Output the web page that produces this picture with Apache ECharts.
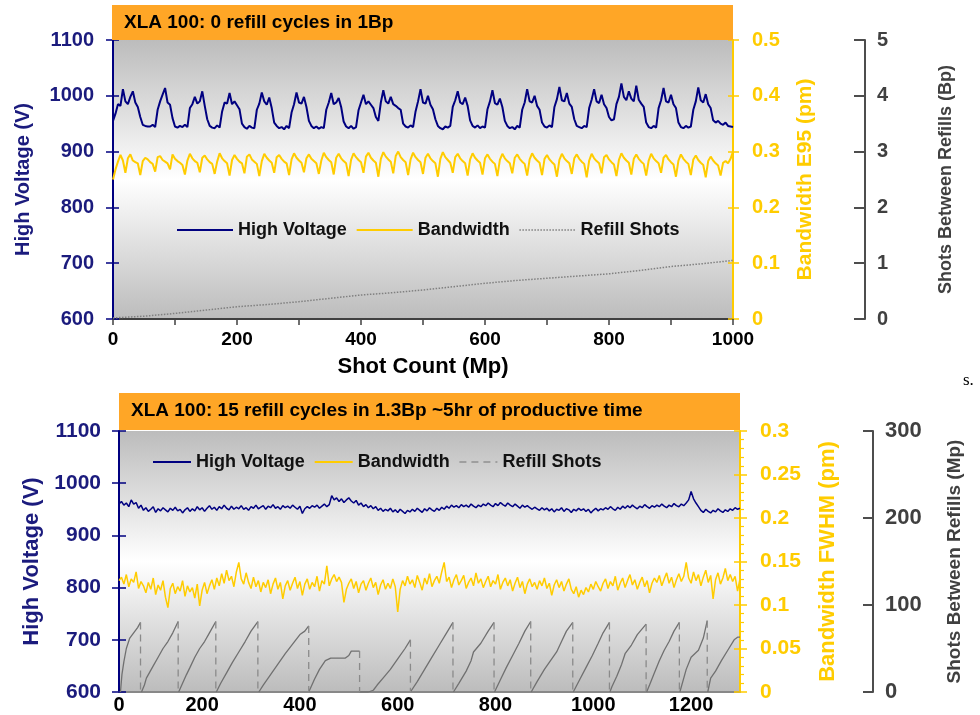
<!doctype html>
<html lang="en">
<head>
<meta charset="UTF-8"/>
<title>XLA 100 refill cycles</title>
<script src="https://cdn.jsdelivr.net/npm/echarts@6/dist/echarts.min.js"></script>
<style>
html,body{margin:0;padding:0;background:#fff;}
#main{width:980px;height:715px;}
</style>
</head>
<body>
<div id="main"></div>
<script type="text/javascript">
// top chart: 0 refill cycles in 1Bp, one sample every 4 Mp from 0
var topStart = 0, topStep = 4;
var topHV = [
  955,968,985,982,1012,990,985,998,1008,988,
  980,962,948,946,945,945,948,944,975,990,
  1002,1014,988,984,960,945,943,946,944,948,
  944,978,985,998,986,990,1008,982,958,946,
  943,942,947,943,972,988,986,1005,985,990,
  983,976,950,944,941,946,943,942,975,986,
  1006,990,984,997,978,952,946,942,944,940,
  946,942,970,985,1006,988,986,998,980,955,
  946,942,945,941,944,942,975,988,1005,985,
  988,996,980,954,945,942,946,941,944,974,
  988,1002,985,990,984,978,962,955,988,1010,
  990,986,998,985,982,978,975,950,945,943,
  947,944,972,990,1012,988,986,1000,984,976,
  958,946,942,940,945,943,946,980,992,1008,
  988,985,997,982,956,946,943,947,942,945,
  943,976,990,1010,987,984,995,980,955,946,
  942,944,940,946,943,975,988,1012,990,988,
  1000,982,975,952,945,943,947,944,980,994,
  1016,992,990,1005,986,980,958,946,944,942,
  946,944,978,993,1012,990,987,1002,985,978,
  962,956,958,985,998,1022,998,992,1008,995,
  990,1018,993,986,980,952,944,942,946,943,
  978,992,1014,990,988,1002,985,978,952,944,
  942,946,943,945,975,990,1015,992,988,1003,
  985,978,956,952,955,950,948,952,946,945,
  944
];
var topBW = [
  0.25,0.268,0.282,0.294,0.284,0.262,0.288,0.295,0.284,0.281,
  0.279,0.258,0.283,0.289,0.286,0.281,0.278,0.264,0.29,0.292,
  0.285,0.282,0.279,0.268,0.295,0.287,0.283,0.28,0.276,0.259,
  0.284,0.296,0.288,0.283,0.28,0.263,0.289,0.293,0.286,0.281,
  0.278,0.26,0.282,0.297,0.288,0.283,0.279,0.257,0.285,0.294,
  0.287,0.282,0.279,0.261,0.291,0.295,0.286,0.282,0.278,0.256,
  0.283,0.296,0.289,0.284,0.28,0.262,0.29,0.294,0.287,0.282,
  0.279,0.258,0.286,0.297,0.289,0.284,0.28,0.263,0.288,0.295,
  0.287,0.283,0.279,0.26,0.284,0.298,0.29,0.285,0.281,0.259,
  0.289,0.296,0.288,0.283,0.279,0.256,0.285,0.297,0.29,0.285,
  0.281,0.262,0.291,0.298,0.289,0.284,0.28,0.255,0.287,0.299,
  0.291,0.286,0.282,0.261,0.292,0.3,0.29,0.285,0.281,0.258,
  0.286,0.298,0.29,0.285,0.281,0.26,0.289,0.296,0.288,0.283,
  0.279,0.255,0.287,0.299,0.29,0.285,0.28,0.262,0.29,0.296,
  0.288,0.283,0.279,0.257,0.286,0.297,0.289,0.284,0.28,0.259,
  0.288,0.295,0.287,0.282,0.278,0.256,0.285,0.296,0.288,0.283,
  0.279,0.261,0.289,0.295,0.287,0.282,0.278,0.257,0.286,0.297,
  0.289,0.284,0.28,0.258,0.287,0.294,0.286,0.281,0.277,0.255,
  0.285,0.296,0.288,0.283,0.279,0.26,0.288,0.295,0.287,0.282,
  0.278,0.254,0.284,0.296,0.288,0.283,0.279,0.261,0.29,0.294,
  0.286,0.281,0.277,0.256,0.285,0.297,0.289,0.284,0.28,0.259,
  0.287,0.295,0.287,0.282,0.278,0.257,0.284,0.296,0.288,0.283,
  0.279,0.262,0.289,0.294,0.286,0.281,0.277,0.255,0.284,0.295,
  0.287,0.282,0.278,0.258,0.286,0.293,0.285,0.28,0.276,0.254,
  0.283,0.291,0.284,0.279,0.275,0.257,0.28,0.283,0.279,0.287,
  0.3
];
// shots between refills (Bp) vs shot count
var topRefill = [
  [0,0.02],[50,0.05],[100,0.1],[150,0.16],[200,0.22],[250,0.26],[300,0.31],
  [350,0.37],[400,0.43],[450,0.47],[500,0.52],[550,0.58],[600,0.64],[650,0.69],
  [700,0.73],[750,0.77],[800,0.81],[850,0.87],[900,0.94],[950,0.99],[1000,1.05]
];

// bottom chart: 15 refill cycles in 1.3Bp, one sample every 5 Mp from 30
var botStart = 30, botStep = 5;
var botHV = [
  960,965,958,962,955,968,960,963,952,958,
  948,953,946,950,955,944,951,947,953,949,
  945,952,948,954,947,950,943,949,953,946,
  951,947,955,949,953,946,952,957,950,954,
  948,955,951,958,952,949,956,950,954,951,
  957,950,953,948,955,952,958,951,954,957,
  950,956,953,959,952,955,950,957,953,956,
  952,958,954,950,956,942,951,955,952,957,
  954,958,952,956,960,955,959,976,968,972,
  965,970,963,968,972,966,962,967,958,962,
  955,959,953,957,951,955,948,952,946,950,
  947,952,945,949,944,950,946,942,948,945,
  950,946,952,948,944,951,947,953,949,946,
  952,948,954,950,956,952,958,954,957,953,
  959,955,958,954,960,956,953,958,955,960,
  957,962,958,955,961,957,963,959,956,962,
  958,955,960,956,952,958,954,957,953,950,
  954,951,948,953,949,952,947,951,945,950,
  948,953,946,951,949,944,950,947,952,948,
  951,946,950,943,948,952,947,951,949,953,
  950,955,951,948,954,950,956,952,957,953,
  958,954,951,956,953,959,955,952,957,954,
  958,955,960,956,953,958,955,961,957,955,
  960,957,962,968,984,970,962,955,948,944,
  950,946,943,948,945,951,947,944,949,946,
  951,948,953,950,952
];
var botBW = [
  0.128,0.132,0.124,0.135,0.121,0.13,0.126,0.138,0.119,0.127,
  0.122,0.114,0.126,0.118,0.131,0.112,0.123,0.117,0.128,0.109,
  0.097,0.119,0.125,0.113,0.121,0.116,0.128,0.11,0.122,0.115,
  0.12,0.108,0.124,0.099,0.117,0.126,0.113,0.122,0.129,0.118,
  0.131,0.122,0.136,0.125,0.14,0.128,0.133,0.121,0.138,0.149,
  0.13,0.124,0.137,0.126,0.119,0.132,0.121,0.128,0.115,0.126,
  0.12,0.129,0.113,0.124,0.131,0.118,0.126,0.107,0.122,0.128,
  0.117,0.125,0.132,0.119,0.127,0.111,0.124,0.13,0.118,0.126,
  0.121,0.133,0.116,0.128,0.124,0.145,0.122,0.13,0.135,0.127,
  0.132,0.126,0.103,0.118,0.125,0.13,0.119,0.127,0.114,0.124,
  0.128,0.117,0.125,0.131,0.12,0.126,0.112,0.123,0.129,0.118,
  0.125,0.119,0.13,0.121,0.092,0.118,0.128,0.122,0.133,0.124,
  0.129,0.12,0.134,0.126,0.117,0.131,0.124,0.136,0.121,0.128,
  0.133,0.125,0.138,0.149,0.127,0.132,0.12,0.129,0.135,0.123,
  0.128,0.134,0.119,0.126,0.131,0.122,0.137,0.125,0.13,0.12,
  0.127,0.133,0.121,0.128,0.124,0.135,0.118,0.126,0.131,0.122,
  0.129,0.116,0.125,0.132,0.12,0.127,0.113,0.124,0.13,0.121,
  0.126,0.118,0.128,0.122,0.131,0.119,0.125,0.111,0.123,0.129,
  0.12,0.127,0.116,0.124,0.13,0.118,0.113,0.121,0.109,0.117,
  0.112,0.12,0.115,0.124,0.118,0.127,0.121,0.116,0.125,0.13,
  0.119,0.127,0.122,0.133,0.117,0.125,0.131,0.12,0.128,0.135,
  0.123,0.129,0.118,0.126,0.132,0.121,0.128,0.114,0.125,0.131,
  0.126,0.134,0.122,0.13,0.137,0.125,0.132,0.12,0.129,0.136,
  0.127,0.133,0.149,0.131,0.125,0.138,0.128,0.135,0.122,0.132,
  0.14,0.126,0.134,0.107,0.129,0.137,0.124,0.131,0.142,0.128,
  0.135,0.127,0.133,0.116,0.13
];
// shots between refills (Mp): one ramp per refill cycle, [shot count, Mp]
var botRamps = [
  [[33,0],[36,20],[40,35],[45,50],[52,62],[60,68],[68,74],[74,80]],
  [[76,0],[82,8],[86,16],[92,22],[100,30],[110,40],[120,50],[130,58],[140,68],[151,81]],
  [[152,0],[160,10],[168,20],[175,28],[185,40],[195,50],[205,58],[215,68],[228,81]],
  [[229,0],[238,10],[250,22],[262,34],[275,46],[288,58],[300,70],[314,81]],
  [[316,0],[325,8],[340,20],[355,32],[370,44],[385,55],[400,66],[410,70],[418,76]],
  [[418,0],[422,5],[430,15],[440,26],[452,36],[463,39],[493,39],[500,42],[505,47],[522,47]],
  [[522,0],[540,0],[550,2],[558,8],[570,16],[585,26],[600,38],[615,50],[626,60]],
  [[626,0],[640,12],[655,26],[670,40],[685,54],[700,68],[713,80]],
  [[714,0],[725,10],[740,24],[750,36],[755,46],[770,56],[785,70],[797,80]],
  [[798,0],[810,14],[822,28],[835,42],[848,56],[860,70],[872,81]],
  [[873,0],[885,12],[900,26],[915,38],[925,46],[935,58],[945,70],[958,80]],
  [[959,0],[972,14],[985,28],[998,42],[1010,56],[1020,68],[1033,80]],
  [[1034,0],[1038,6],[1048,18],[1058,32],[1065,44],[1078,54],[1090,66],[1108,78]],
  [[1109,0],[1115,8],[1125,22],[1135,36],[1145,48],[1155,58],[1165,70],[1176,80]],
  [[1177,0],[1183,12],[1190,26],[1200,40],[1215,48],[1225,62],[1233,82]],
  [[1234,0],[1240,16],[1250,24],[1262,36],[1275,48],[1288,60],[1295,63],[1300,63]]
];
var botXTickValues = [30, 200, 400, 600, 800, 1000, 1200];
var botXTickLabels = ['0', '200', '400', '600', '800', '1000', '1200'];

var FONT = '"Liberation Sans", Arial, sans-serif';
var NAVY = '#000080', NAVY_TXT = '#1b1b7d', YEL = '#FFCC00', GRAY = '#4d4d4d', ORANGE = '#FFA626';

function series(arr, start, step) {
  return arr.map(function (v, i) { return [start + i * step, v]; });
}
// ramps joined with breaks, and the dashed drop at the end of each cycle
var rampData = [], dropData = [];
botRamps.forEach(function (r, k) {
  rampData = rampData.concat(r);
  rampData.push(null);
  if (k < botRamps.length - 1) {
    var last = r[r.length - 1];
    dropData.push([last[0], last[1]], [last[0], 0], null);
  }
});

function bg() {
  return new echarts.graphic.LinearGradient(0, 0, 0, 1, [
    { offset: 0, color: '#bcbcbc' },
    { offset: 0.5, color: '#ffffff' },
    { offset: 1, color: '#bcbcbc' }
  ]);
}
function plain(v) { return String(v); }
function lbl(color, size, margin) {
  return { color: color, fontWeight: 'bold', fontSize: size, fontFamily: FONT, margin: margin, formatter: plain };
}
function nm(color, size) {
  return { color: color, fontWeight: 'bold', fontSize: size, fontFamily: FONT };
}
// a second copy of an axis that only draws the inner half of the ticks
function innerTicks(base, len, color) {
  return Object.assign({}, base, {
    name: '', offset: 0,
    axisLine: { show: false },
    axisLabel: { show: false },
    axisTick: { show: true, inside: true, length: len, lineStyle: { color: color, width: 1.5 } },
    minorTick: { show: false },
    splitLine: { show: false }
  });
}

var myChart = echarts.init(document.getElementById('main'));

var topHVAxis = {
  gridIndex: 0, type: 'value', position: 'left', min: 600, max: 1100, interval: 100,
  axisLine: { show: true, lineStyle: { color: NAVY, width: 2 } },
  axisTick: { show: true, length: 7, lineStyle: { color: NAVY, width: 1.5 } },
  axisLabel: lbl(NAVY_TXT, 20, 19),
  splitLine: { show: false },
  name: 'High Voltage (V)', nameLocation: 'middle', nameRotate: 90, nameGap: 80,
  nameTextStyle: nm(NAVY_TXT, 20)
};
var topBWAxis = {
  gridIndex: 0, type: 'value', position: 'right', min: 0, max: 0.5, interval: 0.1,
  axisLine: { show: true, lineStyle: { color: YEL, width: 2 } },
  axisTick: { show: true, length: 6, lineStyle: { color: YEL, width: 1.5 } },
  axisLabel: lbl(YEL, 20, 19),
  splitLine: { show: false },
  name: 'Bandwidth E95 (pm)', nameLocation: 'middle', nameRotate: 90, nameGap: 62,
  nameTextStyle: nm(YEL, 21)
};
var botHVAxis = Object.assign({}, topHVAxis, {
  gridIndex: 1, axisLabel: lbl(NAVY_TXT, 21, 18), nameGap: 76, nameTextStyle: nm(NAVY_TXT, 22)
});
var botBWAxis = {
  gridIndex: 1, type: 'value', position: 'right', min: 0, max: 0.3, interval: 0.05,
  axisLine: { show: true, lineStyle: { color: YEL, width: 2 } },
  axisTick: { show: true, length: 7, lineStyle: { color: YEL, width: 1.5 } },
  minorTick: { show: true, splitNumber: 5, length: 4, lineStyle: { color: YEL, width: 1.2 } },
  axisLabel: lbl(YEL, 21, 20),
  splitLine: { show: false },
  name: 'Bandwidth FWHM (pm)', nameLocation: 'middle', nameRotate: 90, nameGap: 77,
  nameTextStyle: nm(YEL, 22)
};
var topXAxis = {
  gridIndex: 0, type: 'value', min: 0, max: 1000, interval: 100,
  axisLine: { show: true, lineStyle: { color: '#404040', width: 2 } },
  axisTick: { show: true, length: 6, lineStyle: { color: '#404040', width: 1.5 } },
  axisLabel: Object.assign(lbl('#000', 19, 11), {
    formatter: function (v) { return v % 200 === 0 ? String(v) : ''; }
  }),
  splitLine: { show: false },
  name: 'Shot Count (Mp)', nameLocation: 'middle', nameGap: 37,
  nameTextStyle: nm('#000', 22)
};

var option = {
  animation: false,
  backgroundColor: '#ffffff',
  grid: [
    { left: 113, top: 40, width: 620, height: 279, show: true, borderWidth: 0, backgroundColor: bg() },
    { left: 119, top: 431, width: 621, height: 262, show: true, borderWidth: 0, backgroundColor: bg() }
  ],
  xAxis: [
    topXAxis,
    innerTicks(topXAxis, 6, '#404040'),
    {
      gridIndex: 1, type: 'value', min: 30, max: 1300,
      axisLine: { show: true, lineStyle: { color: '#888888', width: 2 } },
      axisTick: { show: false },
      axisLabel: Object.assign(lbl('#000', 20, 3), {
        customValues: botXTickValues,
        formatter: function (v) {
          var k = botXTickValues.indexOf(v);
          return k >= 0 ? botXTickLabels[k] : '';
        }
      }),
      splitLine: { show: false }
    }
  ],
  yAxis: [
    topHVAxis,
    innerTicks(topHVAxis, 6, NAVY),
    topBWAxis,
    innerTicks(topBWAxis, 5, YEL),
    {
      gridIndex: 0, type: 'value', position: 'right', offset: 132, min: 0, max: 5, interval: 1,
      axisLine: { show: true, lineStyle: { color: GRAY, width: 2 } },
      axisTick: { show: true, inside: true, length: 11, lineStyle: { color: GRAY, width: 2 } },
      axisLabel: lbl('#404040', 20, 12),
      splitLine: { show: false },
      name: 'Shots Between Refills (Bp)', nameLocation: 'middle', nameRotate: 90, nameGap: 72,
      nameTextStyle: nm('#404040', 18)
    },
    botHVAxis,
    innerTicks(botHVAxis, 7, NAVY),
    botBWAxis,
    innerTicks(botBWAxis, 6, YEL),
    {
      gridIndex: 1, type: 'value', position: 'right', offset: 133, min: 0, max: 300, interval: 100,
      axisLine: { show: true, lineStyle: { color: GRAY, width: 2 } },
      axisTick: { show: true, inside: true, length: 10, lineStyle: { color: GRAY, width: 2 } },
      axisLabel: lbl('#404040', 22, 12),
      splitLine: { show: false },
      name: 'Shots Between Refills (Mp)', nameLocation: 'middle', nameRotate: 90, nameGap: 72,
      nameTextStyle: nm('#404040', 19)
    }
  ],
  legend: [
    {
      left: 171, top: 216, itemWidth: 56, itemHeight: 14, itemGap: 9, selectedMode: false,
      itemStyle: { opacity: 0 },
      textStyle: nm('#111', 18),
      data: ['High Voltage', 'Bandwidth', { name: 'Refill Shots', lineStyle: { type: 'dotted', color: '#808080', width: 1.5 } }]
    },
    {
      left: 147, top: 448, itemWidth: 38, itemHeight: 14, itemGap: 9, selectedMode: false,
      itemStyle: { opacity: 0 },
      textStyle: nm('#111', 18),
      data: ['High Voltage', 'Bandwidth', { name: 'Refill Shots', lineStyle: { type: [7, 5], color: '#909090', width: 1.5 } }]
    }
  ],
  graphic: [
    { type: 'rect', left: 112, top: 5, shape: { width: 621, height: 35 }, style: { fill: ORANGE }, z: 1 },
    { type: 'text', left: 124, top: 13, style: { text: 'XLA 100: 0 refill cycles in 1Bp', font: 'bold 19px ' + FONT, fill: '#000' }, z: 2 },
    { type: 'rect', left: 119, top: 393, shape: { width: 621, height: 37 }, style: { fill: ORANGE }, z: 1 },
    { type: 'text', left: 131, top: 401, style: { text: 'XLA 100: 15 refill cycles in 1.3Bp ~5hr of productive time', font: 'bold 19px ' + FONT, fill: '#000' }, z: 2 },
    { type: 'text', left: 963, top: 372, style: { text: 's.', font: '17px "Liberation Serif", serif', fill: '#000' } }
  ],
  series: [
    {
      name: 'High Voltage', type: 'line', xAxisIndex: 0, yAxisIndex: 0, symbol: 'none',
      data: series(topHV, topStart, topStep),
      lineStyle: { color: NAVY, width: 2 }, itemStyle: { color: NAVY }, z: 4
    },
    {
      name: 'Bandwidth', type: 'line', xAxisIndex: 0, yAxisIndex: 2, symbol: 'none',
      data: series(topBW, topStart, topStep),
      lineStyle: { color: YEL, width: 2 }, itemStyle: { color: YEL }, z: 3
    },
    {
      name: 'Refill Shots', type: 'line', xAxisIndex: 0, yAxisIndex: 4, symbol: 'none',
      data: topRefill,
      lineStyle: { color: '#808080', width: 1.5, type: 'dotted' }, itemStyle: { color: '#808080' }, z: 2
    },
    {
      name: 'High Voltage', type: 'line', xAxisIndex: 2, yAxisIndex: 5, symbol: 'none',
      data: series(botHV, botStart, botStep),
      lineStyle: { color: NAVY, width: 1.5 }, itemStyle: { color: NAVY }, z: 4
    },
    {
      name: 'Bandwidth', type: 'line', xAxisIndex: 2, yAxisIndex: 7, symbol: 'none',
      data: series(botBW, botStart, botStep),
      lineStyle: { color: YEL, width: 1.5 }, itemStyle: { color: YEL }, z: 3
    },
    {
      name: 'Refill Shots', type: 'line', xAxisIndex: 2, yAxisIndex: 9, symbol: 'none',
      data: rampData, connectNulls: false,
      lineStyle: { color: '#707070', width: 1.3 }, itemStyle: { color: '#707070' }, z: 2
    },
    {
      name: 'refill drops', type: 'line', xAxisIndex: 2, yAxisIndex: 9, symbol: 'none',
      data: dropData, connectNulls: false,
      lineStyle: { color: '#8a8a8a', width: 1.3, type: [7, 5] }, itemStyle: { color: '#8a8a8a' }, z: 2
    }
  ]
};

myChart.setOption(option);
</script>
</body>
</html>
